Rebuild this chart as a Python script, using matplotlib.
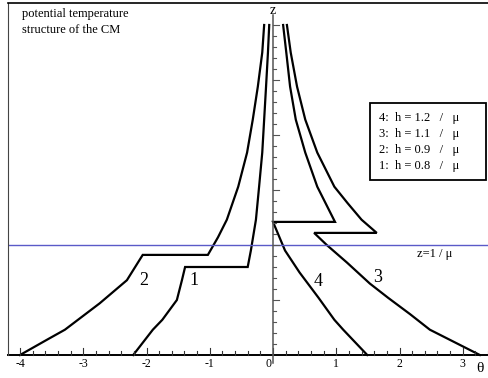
import matplotlib
matplotlib.use("Agg")
import matplotlib.pyplot as plt
import numpy as np

plt.rcParams['font.family'] = ['Liberation Serif', 'DejaVu Serif']

# -------------------- DATA (theta, z) --------------------
# curve 1: h = 0.8
c1_theta = [-2.21, -1.90, -1.75, -1.52, -1.44, -1.39, -0.40, -0.35, -0.27, -0.22, -0.17, -0.14, -0.11, -0.08, -0.06]
c1_z     = [0.00, 0.23, 0.32, 0.50, 0.68, 0.80, 0.80, 0.95, 1.23, 1.53, 1.84, 2.14, 2.44, 2.75, 3.00]
# curve 2: h = 0.9
c2_theta = [-4.00, -3.57, -3.29, -2.74, -2.31, -2.06, -1.03, -0.87, -0.73, -0.55, -0.41, -0.32, -0.24, -0.17, -0.14]
c2_z     = [0.00, 0.14, 0.23, 0.47, 0.68, 0.91, 0.91, 1.07, 1.23, 1.53, 1.84, 2.14, 2.44, 2.75, 3.00]
# curve 3: h = 1.1
c3_theta = [3.27, 2.48, 2.17, 1.82, 1.53, 1.17, 0.85, 0.65, 1.64, 1.40, 1.18, 0.97, 0.70, 0.51, 0.38, 0.28, 0.22]
c3_z     = [0.00, 0.23, 0.37, 0.52, 0.65, 0.84, 1.00, 1.11, 1.11, 1.23, 1.38, 1.53, 1.84, 2.14, 2.44, 2.75, 3.00]
# curve 4: h = 1.2
c4_theta = [1.49, 1.11, 0.97, 0.72, 0.42, 0.19, 0.00, 0.98, 0.70, 0.51, 0.36, 0.27, 0.21, 0.16]
c4_z     = [0.00, 0.23, 0.32, 0.52, 0.75, 0.95, 1.21, 1.21, 1.53, 1.84, 2.14, 2.44, 2.75, 3.00]

curves = [(c1_theta, c1_z), (c2_theta, c2_z), (c3_theta, c3_z), (c4_theta, c4_z)]
curve_labels = ["1", "2", "3", "4"]
label_pos = [(-1.25, 0.68), (-2.05, 0.68), (1.65, 0.70), (0.71, 0.67)]

legend_lines = ["4:  h = 1.2   /   \u03bc",
                "3:  h = 1.1   /   \u03bc",
                "2:  h = 0.9   /   \u03bc",
                "1:  h = 0.8   /   \u03bc"]

xticks = [-4, -3, -2, -1, 0, 1, 2, 3]

# -------------------- PLOT --------------------
fig = plt.figure(figsize=(4.89, 3.78), dpi=100)
ax = fig.add_axes([8 / 489, 23 / 378, 481 / 489, 352 / 378])
ax.set_xlim(-4.19, 3.415)
ax.set_ylim(0, 3.2)

for th, z in curves:
    ax.plot(th, z, color='black', lw=1.6, solid_joinstyle='miter', clip_on=False)

for lab, (x, y) in zip(curve_labels, label_pos):
    ax.text(x, y, lab, fontsize=13, ha='center', va='center')

# z = 1/mu line
ax.axhline(1.0, color='#5a5ac8', lw=1.0)
ax.text(2.56, 0.92, "z=1 / \u03bc", fontsize=9, ha='center', va='center')

# frame: left and top only
for s in ['right', 'bottom']:
    ax.spines[s].set_visible(False)
ax.spines['top'].set_linewidth(1.2)
ax.spines['left'].set_linewidth(0.8)
ax.spines['left'].set_color('#444444')
ax.set_xticks([])
ax.set_yticks([])

# theta axis
ax.plot([-4.19, 3.415], [0, 0], color='black', lw=1.4, clip_on=False)
for t in np.arange(-40, 35, 2) / 10:
    tl = 0.06 if abs(t - round(t)) < 1e-6 else 0.035
    ax.plot([t, t], [0, tl], color='#333333', lw=0.8, clip_on=False)
for t in xticks:
    x = t - 0.07 if t == 0 else t
    ax.text(x, -0.03, str(t), fontsize=8.5, ha='center', va='top')
ax.text(3.27, -0.12, "\u03b8", fontsize=11, ha='center', va='center')

# z axis
ax.plot([0, 0], [-0.07, 3.09], color='#555555', lw=1.1, clip_on=False)
for k in range(1, 31):
    z = k / 10
    tl = 0.09 if k % 5 == 0 else 0.055
    ax.plot([0, tl], [z, z], color='#555555', lw=0.8, clip_on=False)
ax.text(0.0, 3.1, "z", fontsize=10, ha='center', va='baseline')

# title text
ax.text(0.03, 0.985, "potential temperature\nstructure of the CM", transform=ax.transAxes,
        fontsize=9, ha='left', va='top', linespacing=1.45)

# legend box
leg_x0 = (370 - 273) / 63.25
leg_x1 = (486 - 273) / 63.25
leg_y0 = (355 - 180) / 110
leg_y1 = (355 - 103) / 110
ax.add_patch(plt.Rectangle((leg_x0, leg_y0), leg_x1 - leg_x0, leg_y1 - leg_y0,
                           fill=False, lw=1.3, ec='black', clip_on=False))
for i, line in enumerate(legend_lines):
    ax.text(leg_x0 + 0.14, leg_y1 - 0.135 - i * 0.145, line, fontsize=9, ha='left', va='center')

fig.savefig("out.png", dpi=100)
